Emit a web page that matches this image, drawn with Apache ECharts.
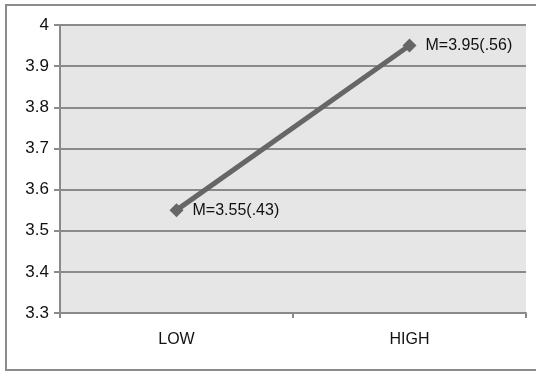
<!DOCTYPE html>
<html>
<head>
<meta charset="utf-8">
<style>
  html, body { margin: 0; padding: 0; background: #ffffff; }
  #chart { width: 536px; height: 372px; }
</style>
<script src="https://cdn.jsdelivr.net/npm/echarts@6/dist/echarts.min.js"></script>
</head>
<body>
<div id="chart"></div>
<script>
// Group categories and their mean scores
const categories = ['LOW', 'HIGH'];
const means = [3.55, 3.95];
const sds = ['.43', '.56'];
const yTicks = { min: 3.3, max: 4, step: 0.1 };

const chart = echarts.init(document.getElementById('chart'), null, { renderer: 'canvas' });

const gridLine = '#8a8a8a';
const font = '"Liberation Sans", Arial, sans-serif';

chart.setOption({
  animation: false,
  backgroundColor: '#ffffff',
  graphic: [
    {
      type: 'rect',
      shape: { x: 6, y: 5, width: 540, height: 365 },
      style: { fill: 'none', stroke: '#8c8c8c', lineWidth: 2 },
      silent: true
    }
  ],
  grid: {
    left: 60, top: 25, width: 466, height: 288,
    show: true, backgroundColor: '#e6e6e6', borderWidth: 0
  },
  xAxis: {
    type: 'category',
    data: categories,
    boundaryGap: true,
    axisLine: { lineStyle: { color: gridLine, width: 2 } },
    axisTick: { show: true, length: 5, lineStyle: { color: gridLine, width: 2 } },
    axisLabel: { color: '#111', fontFamily: font, fontSize: 16, margin: 19 },
    splitLine: { show: false }
  },
  yAxis: {
    type: 'value',
    min: yTicks.min,
    max: yTicks.max,
    interval: yTicks.step,
    axisLine: { show: true, lineStyle: { color: gridLine, width: 2 } },
    axisTick: { show: true, length: 6, lineStyle: { color: gridLine, width: 2 } },
    axisLabel: {
      color: '#111', fontFamily: font, fontSize: 17, margin: 11,
      formatter: v => String(Math.round(v * 10) / 10)
    },
    splitLine: { show: true, lineStyle: { color: gridLine, width: 2 } }
  },
  series: [
    {
      type: 'line',
      data: means,
      symbol: 'diamond',
      symbolSize: 14,
      lineStyle: { color: '#666666', width: 5 },
      itemStyle: { color: '#666666' },
      label: {
        show: true,
        position: 'right',
        distance: 9,
        color: '#111',
        fontFamily: font,
        fontSize: 16,
        formatter: p => 'M=' + means[p.dataIndex].toFixed(2) + '(' + sds[p.dataIndex] + ')'
      }
    }
  ]
});
</script>
</body>
</html>
